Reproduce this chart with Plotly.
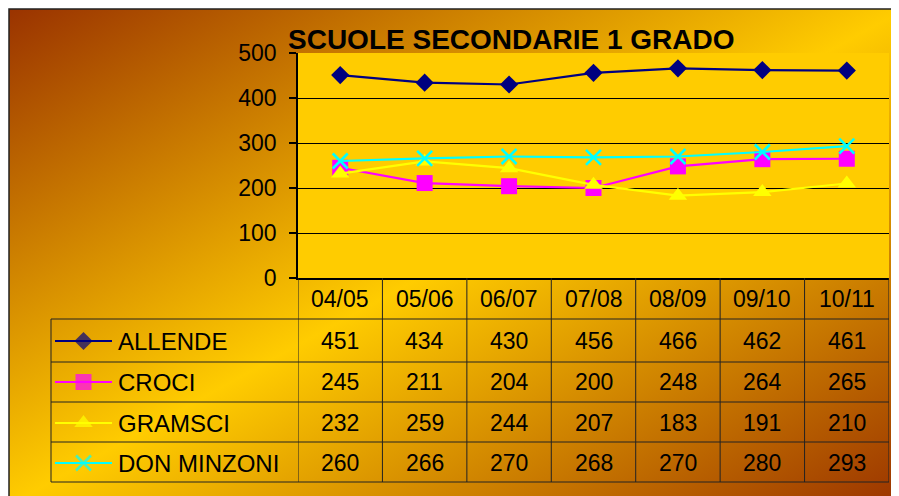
import base64
import plotly.graph_objects as go

# ---------------- data ----------------
categories = ["04/05", "05/06", "06/07", "07/08", "08/09", "09/10", "10/11"]
allende = [451, 434, 430, 456, 466, 462, 461]
croci = [245, 211, 204, 200, 248, 264, 265]
gramsci = [232, 259, 244, 207, 183, 191, 210]
don_minzoni = [260, 266, 270, 268, 270, 280, 293]
series_names = ["ALLENDE", "CROCI", "GRAMSCI", "DON MINZONI"]
y_ticks = [0, 100, 200, 300, 400, 500]
title_text = "SCUOLE SECONDARIE 1 GRADO"

series_values = [allende, croci, gramsci, don_minzoni]

# ---------------- layout helpers ----------------
W, H = 899, 496
OFF = 8  # page body margin
FONT = "Arial, Liberation Sans, sans-serif"


def px(x):
    return (x - OFF) / W


def py(y):
    return 1 - (y - OFF) / H


styles = [
    dict(color="#000080", symbol="diamond", size=14),
    dict(color="#FF00FF", symbol="square", size=16),
    dict(color="#FFFF00", symbol="triangle-up", size=16),
    dict(color="#00FFFF", symbol="x-thin", size=15),
]

PLOT_L, PLOT_R, PLOT_T, PLOT_B = 298, 889, 53, 278
TABLE_LEFT = 51
ROW_LINES = [319, 362, 402, 442, 482]
HEADER_C = 299
ROW_CENTERS = [341, 382, 423, 463]

fig = go.Figure()


def make_marker(st):
    m = dict(symbol=st["symbol"], size=st["size"], color=st["color"])
    if st["symbol"] == "x-thin":
        m["line"] = dict(width=2.5, color=st["color"])
    else:
        m["line"] = dict(width=0)
    return m


for name, vals, st in zip(series_names, series_values, styles):
    fig.add_trace(go.Scatter(
        x=categories, y=vals, name=name, mode="lines+markers",
        line=dict(color=st["color"], width=2.2), marker=make_marker(st),
        xaxis="x", yaxis="y", showlegend=False, hoverinfo="skip"))

# legend keys inside the table's first column (pixel overlay axes)
for st, yc in zip(styles, ROW_CENTERS):
    m = make_marker(st)
    m["size"] = [0, st["size"], 0]
    fig.add_trace(go.Scatter(
        x=[px(55), px(83.5), px(112)], y=[py(yc)] * 3, mode="lines+markers",
        line=dict(color=st["color"], width=2.2), marker=m,
        xaxis="x2", yaxis="y2", showlegend=False, hoverinfo="skip"))

# gradient background as svg image
svg = ('<svg xmlns="http://www.w3.org/2000/svg" width="900" height="500" '
       'viewBox="0 0 900 500" preserveAspectRatio="none"><defs>'
       '<linearGradient id="g" x1="0" y1="0" x2="1" y2="1">'
       '<stop offset="0" stop-color="#9A3300"/>'
       '<stop offset="0.5" stop-color="#FFCC00"/>'
       '<stop offset="1" stop-color="#9A3300"/>'
       '</linearGradient></defs>'
       '<rect width="900" height="500" fill="url(#g)"/></svg>')
src = "data:image/svg+xml;base64," + base64.b64encode(svg.encode()).decode()

BX0, BY0, BX1, BY1 = 9, 9, 905, 505

shapes = []
shapes.append(dict(type="rect", xref="x domain", yref="y domain", x0=0, x1=1, y0=0, y1=1,
                   fillcolor="#FFCC00", line=dict(width=0), layer="below"))
shapes.append(dict(type="rect", xref="paper", yref="paper", x0=px(BX0), x1=px(BX1),
                   y0=py(BY1), y1=py(BY0), line=dict(color="#222222", width=1.5),
                   fillcolor="rgba(0,0,0,0)"))
for yl in ROW_LINES:
    shapes.append(dict(type="line", xref="paper", yref="paper", x0=px(TABLE_LEFT), x1=px(PLOT_R),
                       y0=py(yl), y1=py(yl), line=dict(color="#222222", width=1)))
for i in range(len(categories) + 1):
    shapes.append(dict(type="line", xref="x", yref="paper", x0=i - 0.5, x1=i - 0.5,
                       y0=py(PLOT_B), y1=py(ROW_LINES[-1]), line=dict(color="#222222", width=1)))
shapes.append(dict(type="line", xref="paper", yref="paper", x0=px(TABLE_LEFT), x1=px(TABLE_LEFT),
                   y0=py(ROW_LINES[0]), y1=py(ROW_LINES[-1]), line=dict(color="#222222", width=1)))

annotations = []
annotations.append(dict(text="<b>" + title_text + "</b>", xref="paper", yref="paper",
                        x=px(511), y=py(39), xanchor="center", yanchor="middle", showarrow=False,
                        font=dict(family=FONT, size=28, color="black")))
for c in categories:
    annotations.append(dict(text=c, xref="x", yref="paper", x=c, y=py(HEADER_C),
                            xanchor="center", yanchor="middle", showarrow=False,
                            font=dict(family=FONT, size=23, color="black")))
for name, vals, yc in zip(series_names, series_values, ROW_CENTERS):
    annotations.append(dict(text=name, xref="paper", yref="paper", x=px(116), y=py(yc),
                            xanchor="left", yanchor="middle", showarrow=False,
                            font=dict(family=FONT, size=24, color="black")))
    for c, v in zip(categories, vals):
        annotations.append(dict(text=str(v), xref="x", yref="paper", x=c, y=py(yc),
                                xanchor="center", yanchor="middle", showarrow=False,
                                font=dict(family=FONT, size=23, color="black")))

fig.update_layout(
    width=W, height=H, autosize=False,
    margin=dict(l=0, r=0, t=0, b=0, pad=0, autoexpand=False),
    paper_bgcolor="white", plot_bgcolor="rgba(0,0,0,0)",
    font=dict(family=FONT, size=23, color="black"),
    xaxis=dict(type="category", domain=[px(PLOT_L), px(PLOT_R)], range=[-0.5, 6.5],
               showgrid=False, showticklabels=False, ticks="", showline=True,
               linecolor="black", linewidth=2, zeroline=False, fixedrange=True),
    yaxis=dict(domain=[py(PLOT_B), py(PLOT_T)], range=[0, 500], tickvals=y_ticks,
               showgrid=True, gridcolor="black", gridwidth=1, showline=True,
               linecolor="black", linewidth=1.5, ticks="outside", ticklen=7,
               tickcolor="black", tickwidth=1.5, zeroline=False, ticklabelstandoff=8,
               tickfont=dict(family=FONT, size=23, color="black"), fixedrange=True),
    xaxis2=dict(domain=[0, 1], range=[0, 1], visible=False, anchor="y2", fixedrange=True),
    yaxis2=dict(domain=[0, 1], range=[0, 1], visible=False, anchor="x2", fixedrange=True),
    images=[dict(source=src, xref="paper", yref="paper", x=px(BX0), y=py(BY0),
                 sizex=px(BX1) - px(BX0), sizey=py(BY0) - py(BY1), xanchor="left", yanchor="top",
                 sizing="stretch", layer="below")],
    shapes=shapes, annotations=annotations,
)

fig.write_html("out.html")
